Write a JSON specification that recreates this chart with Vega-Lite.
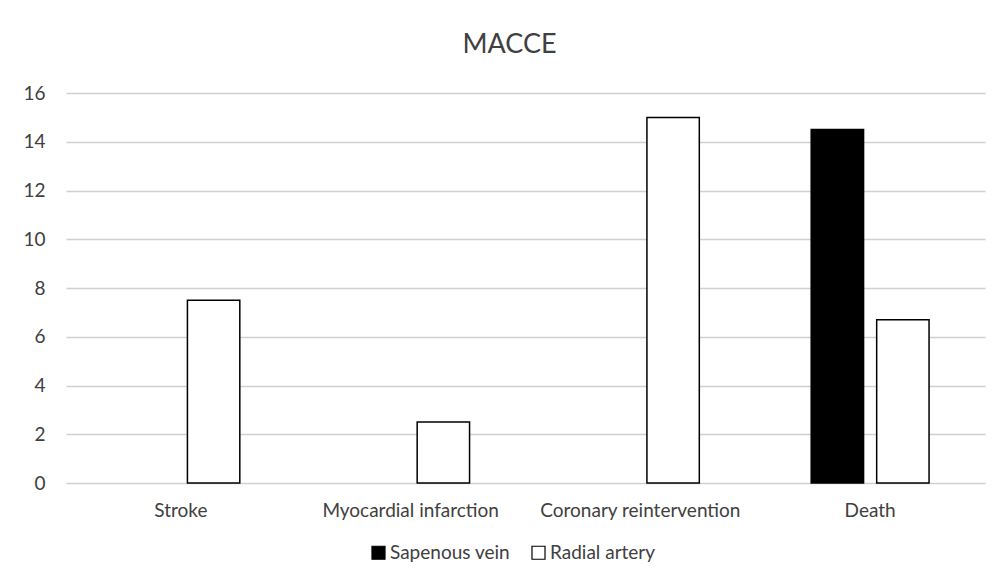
{
  "$schema": "https://vega.github.io/schema/vega-lite/v6.json",
  "autosize": "none",
  "width": 919,
  "height": 390,
  "padding": {"left": 66, "top": 93, "right": 12, "bottom": 103},
  "background": "white",
  "title": {
    "text": "MACCE",
    "font": "Lato",
    "fontSize": 27,
    "fontWeight": "normal",
    "color": "#404040",
    "anchor": "middle",
    "dx": -16,
    "offset": 25
  },
  "data": {
    "values": [
      {"event": "Stroke", "graft": "Sapenous vein", "value": 0},
      {"event": "Stroke", "graft": "Radial artery", "value": 7.5},
      {"event": "Myocardial infarction", "graft": "Sapenous vein", "value": 0},
      {"event": "Myocardial infarction", "graft": "Radial artery", "value": 2.5},
      {"event": "Coronary reintervention", "graft": "Sapenous vein", "value": 0},
      {"event": "Coronary reintervention", "graft": "Radial artery", "value": 15},
      {"event": "Death", "graft": "Sapenous vein", "value": 14.5},
      {"event": "Death", "graft": "Radial artery", "value": 6.7}
    ]
  },
  "mark": {"type": "bar", "strokeWidth": 1.5},
  "encoding": {
    "x": {
      "field": "event",
      "type": "nominal",
      "sort": null,
      "title": null,
      "scale": {"paddingInner": 0.487, "paddingOuter": 0.2435},
      "axis": {
        "labelAngle": 0,
        "labelFont": "Lato",
        "labelFontSize": 19,
        "labelColor": "#404040",
        "labelPadding": 18,
        "labelLimit": 0,
        "ticks": false,
        "domain": false,
        "grid": false
      }
    },
    "xOffset": {
      "field": "graft",
      "type": "nominal",
      "sort": ["Sapenous vein", "Radial artery"],
      "scale": {"paddingInner": 0.2, "paddingOuter": 0}
    },
    "y": {
      "field": "value",
      "type": "quantitative",
      "title": null,
      "scale": {"domain": [0, 16], "nice": false},
      "axis": {
        "values": [0, 2, 4, 6, 8, 10, 12, 14, 16],
        "labelFont": "Lato",
        "labelFontSize": 19,
        "labelColor": "#404040",
        "labelPadding": 21,
        "ticks": false,
        "domain": false,
        "grid": true,
        "gridColor": "#d0d0d0",
        "gridWidth": 1.5
      }
    },
    "fill": {
      "field": "graft",
      "type": "nominal",
      "sort": ["Sapenous vein", "Radial artery"],
      "scale": {"domain": ["Sapenous vein", "Radial artery"], "range": ["#000000", "#ffffff"]},
      "legend": {
        "title": null,
        "orient": "none",
        "legendX": 303,
        "legendY": 450,
        "direction": "horizontal",
        "symbolType": "square",
        "symbolSize": 170,
        "symbolStrokeColor": "#000000",
        "symbolStrokeWidth": 1.2,
        "symbolOpacity": 1,
        "labelFont": "Lato",
        "labelFontSize": 19,
        "labelColor": "#404040",
        "labelOffset": 2,
        "columnPadding": 18
      }
    },
    "stroke": {
      "condition": {"test": "datum.value > 0", "value": "#000000"},
      "value": null
    }
  },
  "config": {
    "view": {"stroke": null}
  }
}
